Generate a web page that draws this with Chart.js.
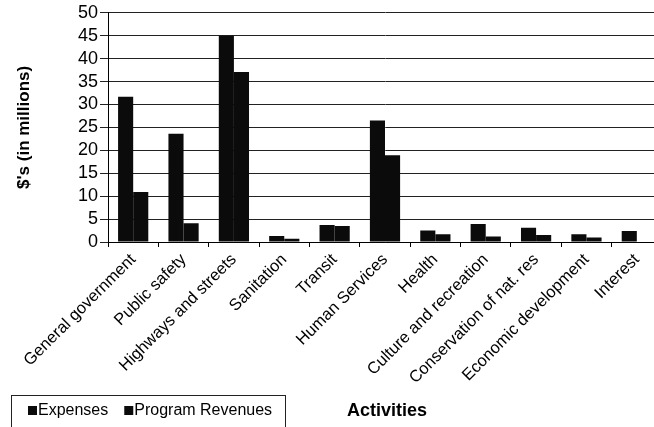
<!DOCTYPE html>
<html>
<head>
<meta charset="utf-8">
<script src="https://cdn.jsdelivr.net/npm/chart.js@4/dist/chart.umd.min.js"></script>
<style>
  html, body { margin: 0; padding: 0; background: #fff; overflow: hidden; }
  #wrap { width: 662px; height: 427px; }
</style>
</head>
<body>
<div id="wrap"><canvas id="activities_chart" width="662" height="427"></canvas></div>
<script>
const activities = ['General government', 'Public safety', 'Highways and streets', 'Sanitation', 'Transit',
  'Human Services', 'Health', 'Culture and recreation', 'Conservation of nat. res',
  'Economic development', 'Interest'];
const expenses = [31.7, 23.6, 45, 1.3, 3.7, 26.5, 2.5, 3.9, 3.1, 1.7, 2.4];
const program_revenues = [10.9, 4.1, 37.1, 0.7, 3.5, 18.9, 1.7, 1.2, 1.5, 1.0, 0];
const y_ticks = [0, 5, 10, 15, 20, 25, 30, 35, 40, 45, 50];

const FONT = 'Arial, "Liberation Sans", sans-serif';

// legend in a box at the bottom left, "Activities" on the same line
const legendFrame = {
  id: 'legendFrame',
  afterDraw(chart) {
    const ctx = chart.ctx;
    const midY = 411;
    ctx.save();
    ctx.strokeStyle = '#222';
    ctx.lineWidth = 1;
    ctx.strokeRect(11.5, 395.5, 274, 40);
    ctx.font = '16px ' + FONT;
    ctx.textBaseline = 'middle';
    ctx.textAlign = 'left';
    let x = 28;
    chart.data.datasets.forEach(ds => {
      ctx.fillStyle = ds.backgroundColor;
      ctx.fillRect(x, midY - 5, 9, 9);
      ctx.fillStyle = '#000';
      ctx.fillText(ds.label, x + 10, midY);
      x += 10 + ctx.measureText(ds.label).width + 16;
    });
    ctx.font = 'bold 18px ' + FONT;
    ctx.textAlign = 'center';
    ctx.fillText('Activities', 387, midY);
    ctx.restore();
  }
};

const activities_chart = document.getElementById('activities_chart');

new Chart(activities_chart, {
  type: 'bar',
  data: {
    labels: activities,
    datasets: [{
      label: 'Expenses',
      data: expenses,
      backgroundColor: '#0b0b0b',
      borderWidth: 0
    }, {
      label: 'Program Revenues',
      data: program_revenues,
      backgroundColor: '#0b0b0b',
      borderWidth: 0
    }]
  },
  options: {
    responsive: false,
    animation: false,
    layout: { padding: { top: 4, left: 14, right: 0, bottom: 0 } },
    datasets: {
      bar: { categoryPercentage: 0.6, barPercentage: 1.0 }
    },
    plugins: {
      legend: { display: false },
      tooltip: { enabled: false }
    },
    scales: {
      x: {
        grid: { display: true, drawOnChartArea: false, color: '#000', tickLength: 5, offset: true },
        border: { color: '#000' },
        ticks: {
          color: '#000',
          font: { family: FONT, size: 16.5 },
          minRotation: 45,
          maxRotation: 45,
          autoSkip: false,
          padding: 3
        },
        afterFit(scale) { scale.height = 185; }
      },
      y: {
        min: 0,
        max: 50,
        afterBuildTicks(scale) { scale.ticks = y_ticks.map(v => ({ value: v })); },
        grid: { color: '#222', tickLength: 8 },
        border: { color: '#000' },
        ticks: {
          color: '#000',
          font: { family: FONT, size: 18 },
          autoSkip: false,
          padding: 2
        },
        title: {
          display: true,
          text: "$'s (in millions)",
          color: '#000',
          font: { family: FONT, size: 17, weight: 'bold' },
          padding: { top: 0, bottom: 12 }
        },
        afterFit(scale) { scale.width = 94; }
      }
    }
  },
  plugins: [legendFrame]
});
</script>
</body>
</html>
